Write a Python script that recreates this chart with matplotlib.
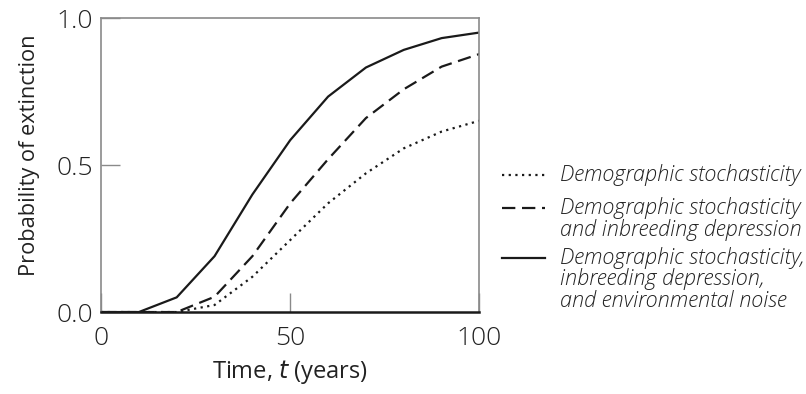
import matplotlib
matplotlib.use("Agg")
import matplotlib.pyplot as plt
from matplotlib.lines import Line2D

plt.rcParams['font.family'] = ['Open Sans', 'DejaVu Sans']
plt.rcParams['font.weight'] = 300

# data
years = [0, 10, 20, 30, 40, 50, 60, 70, 80, 90, 100]
demographic = [0.0, 0.0, 0.0, 0.024, 0.12, 0.245, 0.37, 0.472, 0.557, 0.614, 0.651]
demo_inbreeding = [0.0, 0.0, 0.0, 0.052, 0.19, 0.37, 0.52, 0.66, 0.758, 0.835, 0.878]
demo_inbreeding_env = [0.0, 0.0, 0.05, 0.19, 0.40, 0.585, 0.733, 0.832, 0.892, 0.932, 0.951]

labels = [
    ["Demographic stochasticity"],
    ["Demographic stochasticity", "and inbreeding depression"],
    ["Demographic stochasticity,", "inbreeding depression,", "and environmental noise"],
]
styles = [(0, (1, 2)), (0, (6, 3)), "-"]
series = [demographic, demo_inbreeding, demo_inbreeding_env]

GRAY = "#8a8a8a"
INK = "#1a1a1a"
TXT = "#222222"

fig = plt.figure(figsize=(8.06, 3.94), dpi=100)
ax = fig.add_axes([0.1253, 0.208, 0.4696, 0.746])

for ys, ls in zip(series, styles):
    ax.plot(years, ys, color=INK, lw=1.6, linestyle=ls, solid_capstyle="butt",
            dash_capstyle="butt")

ax.set_xlim(0, 100)
ax.set_ylim(0, 1)
ax.set_xticks([0, 50, 100])
ax.set_yticks([0.0, 0.5, 1.0])
ax.set_yticklabels(["0.0", "0.5", "1.0"])
ax.tick_params(direction="in", length=14, width=1.0, color=GRAY,
               labelsize=19, labelcolor=TXT)
ax.tick_params(axis="x", pad=10)
ax.tick_params(axis="y", pad=6)

for side in ["left", "top", "right"]:
    ax.spines[side].set_color(GRAY)
    ax.spines[side].set_linewidth(1.2)
ax.spines["bottom"].set_color(INK)
ax.spines["bottom"].set_linewidth(1.8)

ax.set_xlabel("Time, $\\mathit{t}$ (years)", fontsize=17, color=TXT)
ax.set_ylabel("Probability of extinction", fontsize=15.7, color=TXT)
ax.xaxis.set_label_coords(0.5, -0.155)
ax.yaxis.set_label_coords(-0.16, 0.532)

# legend drawn by hand so the handle sits on the first text line
W, H = 806, 394
rows = [175, 208, 258]
for lines, ls, yp in zip(labels, styles, rows):
    yf = 1 - yp / H
    fig.add_artist(Line2D([502 / W, 545 / W], [yf, yf], color=INK, lw=1.6,
                          linestyle=ls, transform=fig.transFigure))
    for i, line in enumerate(lines):
        fig.text(560 / W, 1 - (yp + 21.5 * i) / H, line, fontsize=15.6,
                 style="italic", color=TXT, va="center", ha="left")

fig.savefig("out.png", dpi=100)
